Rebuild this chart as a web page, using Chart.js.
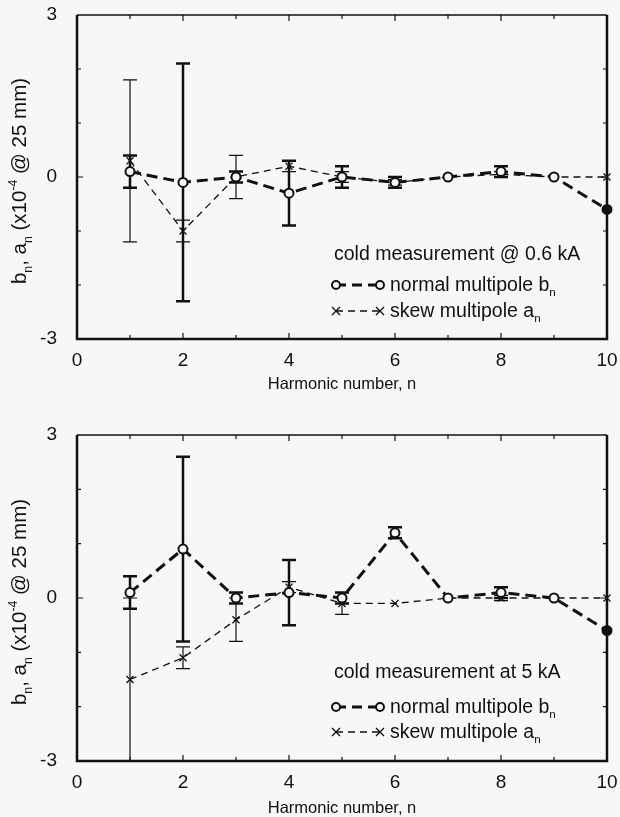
<!DOCTYPE html>
<html><head><meta charset="utf-8">
<script src="https://cdn.jsdelivr.net/npm/chart.js@4.4.0/dist/chart.umd.min.js"></script>
<style>
html,body{margin:0;padding:0;background:#f7f7f7;}
#wrap{position:relative;width:620px;height:817px;overflow:hidden;background:#f7f7f7;}
canvas{position:absolute;left:0;}
</style></head><body>
<div id="wrap">
<canvas id="c1" width="620" height="410" style="top:0px"></canvas>
<canvas id="c2" width="620" height="407" style="top:410px"></canvas>
</div>
<script>
// ---- data ----
const harmonics = [1, 2, 3, 4, 5, 6, 7, 8, 9, 10];
// top panel: cold measurement @ 0.6 kA
const normalLow    = [0.1, -0.1, 0, -0.3, 0, -0.1, 0, 0.1, 0, -0.6];
const normalLowErr = [0.3, 2.2, 0.1, 0.6, 0.2, 0.1, 0, 0.1, 0, 0];
const skewLow      = [0.3, -1.0, 0, 0.2, 0, -0.1, 0, 0.05, 0, 0];
const skewLowErr   = [1.5, 0.2, 0.4, 0.1, 0.1, 0.05, 0, 0.05, 0, 0];
// bottom panel: cold measurement at 5 kA
const normalHigh    = [0.1, 0.9, 0, 0.1, 0, 1.2, 0, 0.1, 0, -0.6];
const normalHighErr = [0.3, 1.7, 0.1, 0.6, 0.1, 0.1, 0, 0.1, 0, 0];
const skewHigh      = [-1.5, -1.1, -0.4, 0.2, -0.1, -0.1, 0, 0, 0, 0];
const skewHighErr   = [1.5, 0.2, 0.4, 0.1, 0.2, 0, 0, 0.05, 0, 0];
// ticks & text
const xTickLabels = [0, 2, 4, 6, 8, 10];
const xMinorTicks = [1, 2, 3, 4, 5, 6, 7, 8, 9];
const yTickLabels = [-3, 0, 3];
const yMinorTicks = [-2, -1, 0, 1, 2];
const panelTitles = ['cold measurement @ 0.6 kA', 'cold measurement at 5 kA'];
const legendNames = ['normal multipole b', 'skew multipole a'];
const xTitle = 'Harmonic number, n';

const FONT = '"Liberation Sans", Arial, Helvetica, sans-serif';
const INK = '#111';
const BG = '#f7f7f7';

function drawRich(ctx, parts, x, y, size) {
  // parts: [text, kind] kind: 0 normal, 1 sub, 2 sup
  let cx = x;
  for (const [t, k] of parts) {
    const s = k ? size * 0.6 : size;
    ctx.font = s + 'px ' + FONT;
    const dy = k === 1 ? size * 0.28 : (k === 2 ? -size * 0.42 : 0);
    ctx.fillText(t, cx, y + dy);
    cx += ctx.measureText(t).width;
  }
  return cx - x;
}
function richWidth(ctx, parts, size) {
  let w = 0;
  for (const [t, k] of parts) {
    ctx.font = (k ? size * 0.6 : size) + 'px ' + FONT;
    w += ctx.measureText(t).width;
  }
  return w;
}

const decoPlugin = {
  id: 'deco',
  beforeDatasetsDraw(chart) {
    const ctx = chart.ctx, xs = chart.scales.x, ys = chart.scales.y;
    const a = chart.chartArea;
    chart.data.datasets.forEach(ds => {
      ctx.save();
      ctx.strokeStyle = INK;
      ctx.lineWidth = ds.errWidth;
      ctx.setLineDash([]);
      ds.data.forEach((p, i) => {
        const e = ds.errors[i];
        if (!e) return;
        const x = xs.getPixelForValue(p.x);
        let y1 = ys.getPixelForValue(p.y + e), y2 = ys.getPixelForValue(p.y - e);
        const c1 = y1 >= a.top, c2 = y2 <= a.bottom;
        y1 = Math.max(y1, a.top); y2 = Math.min(y2, a.bottom);
        ctx.beginPath();
        ctx.moveTo(x, y1); ctx.lineTo(x, y2);
        if (c1) { ctx.moveTo(x - 7, y1); ctx.lineTo(x + 7, y1); }
        if (c2) { ctx.moveTo(x - 7, y2); ctx.lineTo(x + 7, y2); }
        ctx.stroke();
      });
      ctx.restore();
    });
  },
  afterDraw(chart, args, opts) {
    const ctx = chart.ctx, xs = chart.scales.x, ys = chart.scales.y;
    const a = chart.chartArea;
    ctx.save();
    ctx.strokeStyle = INK;
    ctx.setLineDash([]);
    // frame
    ctx.lineWidth = 1.5;
    ctx.beginPath(); ctx.moveTo(a.left, a.top); ctx.lineTo(a.right, a.top); ctx.stroke();
    ctx.lineWidth = 2.5;
    ctx.beginPath();
    ctx.moveTo(a.left, a.top); ctx.lineTo(a.left, a.bottom); ctx.lineTo(a.right, a.bottom); ctx.lineTo(a.right, a.top);
    ctx.stroke();
    // inward ticks
    ctx.lineWidth = 1.2;
    ctx.beginPath();
    xMinorTicks.forEach(v => {
      const x = xs.getPixelForValue(v);
      const L = v % 2 === 0 ? 6 : 4;
      ctx.moveTo(x, a.bottom); ctx.lineTo(x, a.bottom - L);
      ctx.moveTo(x, a.top); ctx.lineTo(x, a.top + L);
    });
    yMinorTicks.forEach(v => {
      const y = ys.getPixelForValue(v);
      const L = v === 0 ? 6 : 4;
      ctx.moveTo(a.left, y); ctx.lineTo(a.left + L, y);
      ctx.moveTo(a.right, y); ctx.lineTo(a.right - L, y);
    });
    ctx.stroke();

    // y-axis title (rotated)
    const ySize = 20.5;
    const yParts = [['b', 0], ['n', 1], [', a', 0], ['n', 1], [' (x10', 0], ['-4', 2], [' @ 25 mm)', 0]];
    const yw = richWidth(ctx, yParts, ySize);
    ctx.save();
    ctx.translate(26, (a.top + a.bottom) / 2 + 4);
    ctx.rotate(-Math.PI / 2);
    ctx.fillStyle = INK;
    ctx.textBaseline = 'alphabetic';
    ctx.textAlign = 'left';
    drawRich(ctx, yParts, -yw / 2, 0, ySize);
    ctx.restore();

    // in-plot legend
    const L = opts.legend;
    ctx.fillStyle = INK;
    ctx.textBaseline = 'alphabetic';
    ctx.textAlign = 'left';
    ctx.font = '19.5px ' + FONT;
    ctx.fillText(panelTitles[opts.panel], 334, L.title);
    // row 1: normal
    const m1 = L.row1 - 6, m2 = L.row2 - 6;
    ctx.lineWidth = 3; ctx.setLineDash([10, 6]);
    ctx.beginPath(); ctx.moveTo(336, m1); ctx.lineTo(380, m1); ctx.stroke();
    ctx.setLineDash([]); ctx.lineWidth = 2;
    [336, 380].forEach(x => { ctx.beginPath(); ctx.arc(x, m1, 4, 0, Math.PI * 2); ctx.fillStyle = BG; ctx.fill(); ctx.stroke(); });
    ctx.fillStyle = INK;
    drawRich(ctx, [[legendNames[0], 0], ['n', 1]], 390, L.row1, 19.5);
    // row 2: skew
    ctx.lineWidth = 1.3; ctx.setLineDash([7, 5]);
    ctx.beginPath(); ctx.moveTo(336, m2); ctx.lineTo(380, m2); ctx.stroke();
    ctx.setLineDash([]);
    [336, 380].forEach(x => {
      ctx.beginPath();
      ctx.moveTo(x - 4, m2 - 4); ctx.lineTo(x + 4, m2 + 4);
      ctx.moveTo(x - 4, m2 + 4); ctx.lineTo(x + 4, m2 - 4);
      ctx.stroke();
    });
    drawRich(ctx, [[legendNames[1], 0], ['n', 1]], 390, L.row2, 19.5);
    ctx.restore();
  }
};

function makeChart(id, normal, normalErr, skew, skewErr, cfg) {
  return new Chart(document.getElementById(id), {
    type: 'line',
    data: {
      datasets: [
        {
          label: legendNames[0] + 'n',
          data: harmonics.map((n, i) => ({ x: n, y: normal[i] })),
          errors: normalErr,
          errWidth: 2.5,
          borderColor: INK,
          borderWidth: 3,
          borderDash: [11, 6],
          tension: 0,
          fill: false,
          clip: false,
          pointStyle: 'circle',
          pointRadius: 4.5,
          pointBorderWidth: 2,
          pointBorderColor: INK,
          pointBackgroundColor: ctx => ctx.dataIndex === harmonics.length - 1 ? INK : BG,
          order: 1
        },
        {
          label: legendNames[1] + 'n',
          data: harmonics.map((n, i) => ({ x: n, y: skew[i] })),
          errors: skewErr,
          errWidth: 1.2,
          borderColor: INK,
          borderWidth: 1.3,
          borderDash: [7, 5],
          tension: 0,
          fill: false,
          clip: false,
          pointStyle: 'crossRot',
          pointRadius: 5,
          pointBorderWidth: 1.3,
          pointBorderColor: INK,
          order: 2
        }
      ]
    },
    options: {
      responsive: false,
      animation: false,
      devicePixelRatio: 1,
      layout: { padding: { top: cfg.top, right: 13, left: 0, bottom: 0 } },
      plugins: {
        legend: { display: false },
        tooltip: { enabled: false },
        deco: { panel: cfg.panel, legend: cfg.legend }
      },
      scales: {
        x: {
          type: 'linear', min: 0, max: 10,
          afterFit: s => { s.height = cfg.xh; s.paddingLeft = 0; s.paddingRight = 0; },
          afterBuildTicks: s => { s.ticks = xTickLabels.map(v => ({ value: v })); },
          grid: { display: false },
          border: { display: false },
          ticks: { font: { family: FONT, size: 19 }, color: INK, padding: 2, maxRotation: 0, autoSkip: false },
          title: { display: true, text: xTitle, color: INK, font: { family: FONT, size: 16.5, lineHeight: 1 }, padding: { top: 0, bottom: cfg.titlePad } }
        },
        y: {
          type: 'linear', min: -3, max: 3,
          afterFit: s => { s.width = 77; s.paddingTop = 0; s.paddingBottom = 0; },
          afterBuildTicks: s => { s.ticks = yTickLabels.map(v => ({ value: v })); },
          grid: { display: false },
          border: { display: false },
          ticks: { font: { family: FONT, size: 19 }, color: INK, padding: 12 }
        }
      }
    },
    plugins: [decoPlugin]
  });
}

makeChart('c1', normalLow, normalLowErr, skewLow, skewLowErr,
  { top: 15, xh: 71, titlePad: 17, panel: 0, legend: { title: 260, row1: 291, row2: 317 } });
makeChart('c2', normalHigh, normalHighErr, skewHigh, skewHighErr,
  { top: 25, xh: 56, titlePad: 0, panel: 1, legend: { title: 268, row1: 303, row2: 328 } });
</script>
</body></html>
